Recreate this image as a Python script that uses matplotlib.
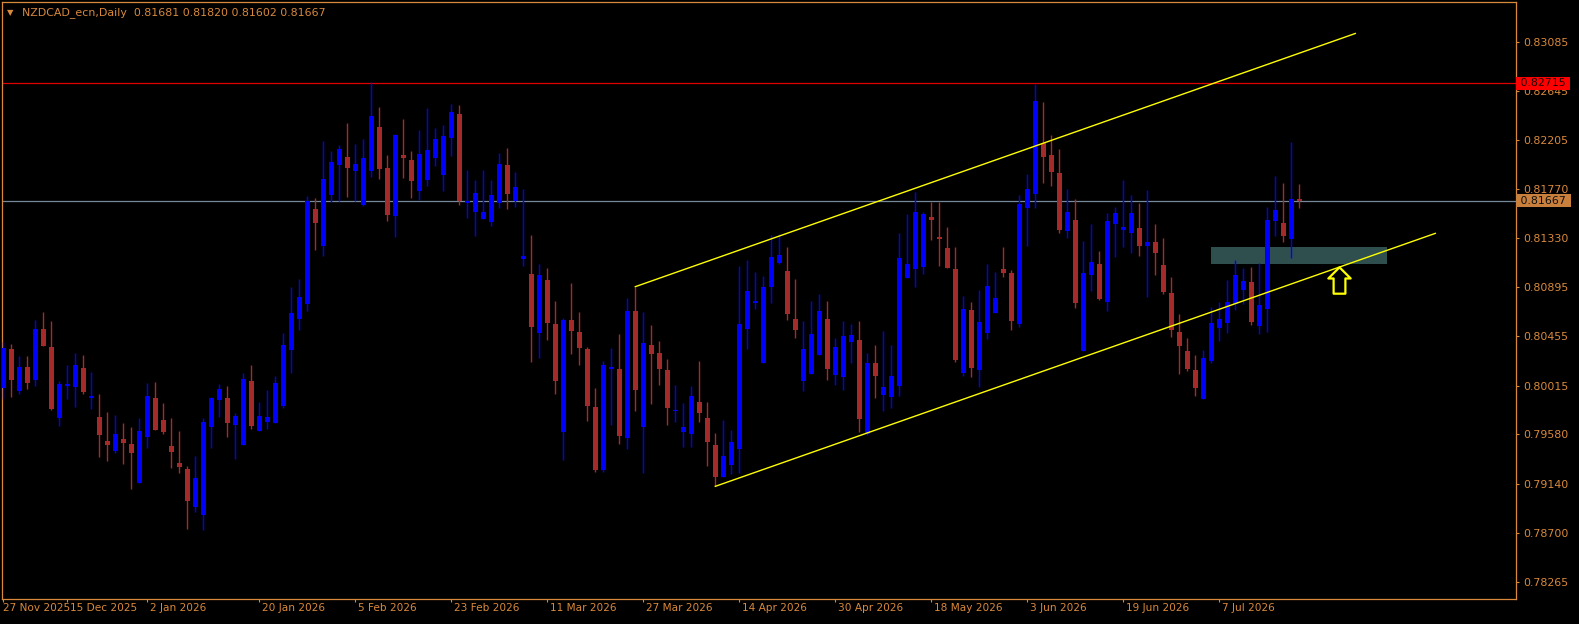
import matplotlib
matplotlib.use("Agg")
from matplotlib import pyplot as plt
from matplotlib.path import Path
from matplotlib import patches
from matplotlib import transforms
import numpy as np

# daily candles (bar 0 = leftmost)
opens = [
    0.79997, 0.80342, 0.79970, 0.80182, 0.80068, 0.80521, 0.80360, 0.79729, 0.80015, 0.80003,
    0.80173, 0.79908, 0.79735, 0.79521, 0.79434, 0.79539, 0.79494, 0.79148, 0.79559, 0.79905,
    0.79708, 0.79476, 0.79324, 0.79271, 0.78931, 0.78860, 0.79649, 0.79890, 0.79905, 0.79664,
    0.79488, 0.80057, 0.79613, 0.79693, 0.79684, 0.79836, 0.80336, 0.80613, 0.80747, 0.81593,
    0.81265, 0.81720, 0.81986, 0.82057, 0.81932, 0.81628, 0.81932, 0.82325, 0.81959, 0.81530,
    0.82075, 0.82030, 0.81753, 0.81852, 0.82048, 0.81896, 0.82227, 0.82441, 0.81646, 0.81566,
    0.81503, 0.81477, 0.81646, 0.81986, 0.81667, 0.81144, 0.81012, 0.80488, 0.80959, 0.80566,
    0.79604, 0.80601, 0.80494, 0.80342, 0.79825, 0.79265, 0.80167, 0.80164, 0.79550, 0.80682,
    0.79649, 0.80378, 0.80307, 0.80155, 0.79789, 0.79604, 0.79586, 0.79869, 0.79726, 0.79485,
    0.79202, 0.79309, 0.79452, 0.80518, 0.80756, 0.80220, 0.80899, 0.81110, 0.81039, 0.80610,
    0.80059, 0.80122, 0.80292, 0.80610, 0.80113, 0.80095, 0.80408, 0.80423, 0.79581, 0.80217,
    0.79934, 0.79917, 0.80015, 0.80979, 0.81060, 0.81077, 0.81521, 0.81334, 0.81244, 0.81057,
    0.80131, 0.80691, 0.80158, 0.80488, 0.80667, 0.81057, 0.81021, 0.80568, 0.81604, 0.81729,
    0.82182, 0.82075, 0.81914, 0.81399, 0.81494, 0.80327, 0.81006, 0.81102, 0.80765, 0.81461,
    0.81408, 0.81381, 0.81423, 0.81265, 0.81298, 0.81093, 0.80843, 0.80494, 0.80325, 0.80155,
    0.79899, 0.80238, 0.80533, 0.80577, 0.80747, 0.80872, 0.80941, 0.80551, 0.80702, 0.81488,
    0.81468, 0.81327, 0.81681]
highs = [
    0.80408, 0.80387, 0.80283, 0.80283, 0.80601, 0.80673, 0.80592, 0.80057, 0.80200, 0.80307,
    0.80289, 0.80140, 0.79941, 0.79780, 0.79753, 0.79682, 0.79649, 0.79729, 0.80039, 0.80048,
    0.79860, 0.79726, 0.79610, 0.79298, 0.79387, 0.79726, 0.79917, 0.80030, 0.80012, 0.79771,
    0.80128, 0.80200, 0.79872, 0.79976, 0.80101, 0.80485, 0.80896, 0.80968, 0.81709, 0.81691,
    0.82200, 0.82111, 0.82164, 0.82363, 0.82173, 0.82218, 0.82727, 0.82504, 0.82075, 0.82262,
    0.82396, 0.82111, 0.82298, 0.82495, 0.82316, 0.82343, 0.82530, 0.82521, 0.81941, 0.81852,
    0.81941, 0.81852, 0.82093, 0.82137, 0.81923, 0.81771, 0.81360, 0.81102, 0.81066, 0.80771,
    0.80622, 0.80932, 0.80673, 0.80360, 0.79994, 0.80235, 0.80354, 0.80476, 0.80798, 0.80899,
    0.80673, 0.80557, 0.80414, 0.80253, 0.80021, 0.79860, 0.80012, 0.80235, 0.79869, 0.79592,
    0.79708, 0.79619, 0.81084, 0.81137, 0.81030, 0.80994, 0.81360, 0.81369, 0.81253, 0.80968,
    0.80592, 0.80771, 0.80834, 0.80771, 0.80441, 0.80592, 0.80566, 0.80592, 0.80307, 0.80381,
    0.80503, 0.80378, 0.81378, 0.81548, 0.81744, 0.81566, 0.81658, 0.81658, 0.81432, 0.81253,
    0.80816, 0.80762, 0.80869, 0.81102, 0.81030, 0.81253, 0.81048, 0.81715, 0.81905, 0.82712,
    0.82548, 0.82253, 0.82128, 0.81771, 0.81682, 0.81307, 0.81459, 0.81218, 0.81557, 0.81611,
    0.81852, 0.81718, 0.81646, 0.81762, 0.81459, 0.81334, 0.80985, 0.80655, 0.80441, 0.80289,
    0.80334, 0.80718, 0.80762, 0.80959, 0.81137, 0.81066, 0.81075, 0.81110, 0.81611, 0.81887,
    0.81825, 0.82191, 0.81820]
lows = [
    0.79896, 0.79917, 0.79943, 0.79988, 0.80015, 0.80372, 0.79798, 0.79657, 0.79899, 0.79827,
    0.79943, 0.79809, 0.79381, 0.79345, 0.79414, 0.79318, 0.79095, 0.79148, 0.79461, 0.79622,
    0.79586, 0.79282, 0.79238, 0.78738, 0.78890, 0.78726, 0.79461, 0.79738, 0.79559, 0.79360,
    0.79488, 0.79631, 0.79613, 0.79631, 0.79684, 0.79818, 0.80128, 0.80515, 0.80684, 0.81229,
    0.81176, 0.81658, 0.81667, 0.81703, 0.81661, 0.81619, 0.81878, 0.81861, 0.81486, 0.81343,
    0.81870, 0.81691, 0.81673, 0.81798, 0.81977, 0.81753, 0.82066, 0.81628, 0.81512, 0.81352,
    0.81503, 0.81441, 0.81604, 0.81595, 0.81613, 0.81084, 0.80229, 0.80265, 0.80426, 0.79943,
    0.79354, 0.80301, 0.80202, 0.79702, 0.79247, 0.79247, 0.79666, 0.79497, 0.79452, 0.79791,
    0.79238, 0.79854, 0.80024, 0.79666, 0.79693, 0.79470, 0.79470, 0.79693, 0.79300, 0.79116,
    0.79202, 0.79229, 0.79238, 0.80345, 0.80700, 0.80220, 0.80756, 0.81102, 0.80604, 0.80443,
    0.79970, 0.80122, 0.80292, 0.80068, 0.80024, 0.79979, 0.80220, 0.79604, 0.79574, 0.79908,
    0.79791, 0.79818, 0.79925, 0.80979, 0.80899, 0.81015, 0.81319, 0.81086, 0.81068, 0.80229,
    0.80104, 0.80095, 0.80006, 0.80434, 0.80667, 0.80988, 0.80515, 0.80542, 0.81265, 0.81604,
    0.81828, 0.81801, 0.81381, 0.81336, 0.80711, 0.80327, 0.80863, 0.80780, 0.80684, 0.81167,
    0.81256, 0.81202, 0.81176, 0.80810, 0.81006, 0.80836, 0.80452, 0.80122, 0.80149, 0.79925,
    0.79899, 0.80220, 0.80417, 0.80488, 0.80693, 0.80747, 0.80559, 0.80479, 0.80497, 0.81354,
    0.81301, 0.81158, 0.81602]
closes = [
    0.80354, 0.80068, 0.80182, 0.80042, 0.80521, 0.80372, 0.79807, 0.80030, 0.80030, 0.80200,
    0.79961, 0.79914, 0.79577, 0.79488, 0.79583, 0.79506, 0.79416, 0.79610, 0.79923, 0.79622,
    0.79604, 0.79425, 0.79291, 0.78988, 0.79193, 0.79693, 0.79908, 0.79985, 0.79684, 0.79744,
    0.80075, 0.79657, 0.79744, 0.79735, 0.80039, 0.80378, 0.80664, 0.80807, 0.81664, 0.81470,
    0.81861, 0.82012, 0.82128, 0.81959, 0.81995, 0.82048, 0.82423, 0.81950, 0.81539, 0.82253,
    0.82048, 0.81843, 0.82084, 0.82120, 0.82218, 0.82245, 0.82459, 0.81664, 0.81664, 0.81736,
    0.81566, 0.81718, 0.81995, 0.81729, 0.81786, 0.81173, 0.80542, 0.81001, 0.80577, 0.80059,
    0.80601, 0.80506, 0.80354, 0.79836, 0.79265, 0.80200, 0.80184, 0.79568, 0.80682, 0.79979,
    0.80396, 0.80301, 0.80167, 0.79818, 0.79798, 0.79646, 0.79923, 0.79774, 0.79515, 0.79202,
    0.79387, 0.79512, 0.80566, 0.80860, 0.80765, 0.80896, 0.81164, 0.81182, 0.80658, 0.80515,
    0.80342, 0.80476, 0.80682, 0.80167, 0.80360, 0.80461, 0.80467, 0.79720, 0.80217, 0.80104,
    0.80006, 0.80101, 0.81155, 0.81102, 0.81566, 0.81548, 0.81497, 0.81327, 0.81068, 0.80247,
    0.80700, 0.80175, 0.80584, 0.80905, 0.80798, 0.81024, 0.80595, 0.81637, 0.81771, 0.82557,
    0.82057, 0.81926, 0.81408, 0.81566, 0.80756, 0.81021, 0.81119, 0.80789, 0.81486, 0.81557,
    0.81432, 0.81557, 0.81265, 0.81298, 0.81202, 0.80854, 0.80515, 0.80372, 0.80167, 0.79997,
    0.80262, 0.80575, 0.80610, 0.80762, 0.81003, 0.80950, 0.80586, 0.80735, 0.81494, 0.81584,
    0.81354, 0.81682, 0.81667]

date_idx = [0, 8, 18, 32, 44, 56, 68, 80, 92, 104, 116, 128, 140, 152]
date_labels = ['27 Nov 2025', '15 Dec 2025', '2 Jan 2026', '20 Jan 2026', '5 Feb 2026',
               '23 Feb 2026', '11 Mar 2026', '27 Mar 2026', '14 Apr 2026', '30 Apr 2026',
               '18 May 2026', '3 Jun 2026', '19 Jun 2026', '7 Jul 2026']
price_ticks = [0.83085, 0.82645, 0.82205, 0.81770, 0.81330, 0.80895,
               0.80455, 0.80015, 0.79580, 0.79140, 0.78700, 0.78265]

resistance = 0.82715
bid = 0.81667
# channel lines: (bar, price) start and end
chan_upper = [(79, 0.80899), (169, 0.83160)]
chan_lower = [(89, 0.79116), (179, 0.81375)]
# support zone rectangle
zone_bars = (151, 173)
zone_prices = (0.81104, 0.81253)
arrow_at = (167, 0.80956)

BULL = '#0000FF'
BEAR = '#A52A2A'
FG = '#D9893B'

W, H = 1579, 624
fig = plt.figure(figsize=(W / 100, H / 100), dpi=100, facecolor='black')
left_px, right_px, top_px, bot_px = 2, 1516, 2, 599
ax = fig.add_axes([left_px / W, 1 - bot_px / H, (right_px - left_px) / W, (bot_px - top_px) / H])
ax.set_facecolor('black')

o = np.array(opens)
h = np.array(highs)
l = np.array(lows)
c = np.array(closes)
x = np.arange(len(o))
colors = [BULL if cc >= oo else BEAR for oo, cc in zip(o, c)]

px_price = 0.0000893
body_lo = np.minimum(o, c)
body_h = np.maximum(np.abs(c - o), 1.3 * px_price)

ax.axhline(resistance, color='#E00000', lw=0.9, zorder=1.5)
ax.axhline(bid, color='#778899', lw=0.9, zorder=1.5)

ax.add_patch(patches.Rectangle((zone_bars[0], zone_prices[0]), zone_bars[1] - zone_bars[0],
                               zone_prices[1] - zone_prices[0], fc='#2F4F4F', ec='none', zorder=1))

ax.vlines(x, l, h, colors=colors, lw=1.0, zorder=2.9)
ax.bar(x, body_h, bottom=body_lo, width=0.66, color=colors, linewidth=0, zorder=3)

for line in (chan_upper, chan_lower):
    ax.plot([line[0][0], line[1][0]], [line[0][1], line[1][1]], color='#FFFF00', lw=1, zorder=4)

# hollow up-arrow marker
arrow_path = Path([(0, 13), (11, 2), (5.8, 2), (5.8, -13), (-5.8, -13), (-5.8, 2), (-11, 2), (0, 13)],
                  [Path.MOVETO] + [Path.LINETO] * 6 + [Path.CLOSEPOLY])
ax.plot([arrow_at[0]], [arrow_at[1]], marker=arrow_path, markersize=19, mfc='black', mec='#FFFF00',
        mew=1.6, zorder=5, linestyle='none')

ax.set_xlim((left_px - 3.3) / 8, (right_px - 3.3) / 8)
ax.set_ylim(0.83459 - px_price * bot_px, 0.83459 - px_price * top_px)

ax.yaxis.tick_right()
ax.set_yticks(price_ticks)
ax.set_yticklabels(['%.5f' % v for v in price_ticks])
ax.set_xticks(date_idx)
ax.set_xticklabels([])
ax.tick_params(axis='y', colors=FG, labelsize=7.9, length=2.5, width=0.8, pad=3)
ax.tick_params(axis='x', colors=FG, length=2.5, width=0.8)
for sp in ax.spines.values():
    sp.set_color(FG)
    sp.set_linewidth(0.9)

# date labels, text starting just right of each tick (first one sits on the left edge)
for n, (i, lab) in enumerate(zip(date_idx, date_labels)):
    dx = 0 if n == 0 else 3
    tf = ax.get_xaxis_transform() + transforms.ScaledTranslation(dx / 100, -4 / 100, fig.dpi_scale_trans)
    ax.text(i, 0, lab, transform=tf, ha='left', va='top', fontsize=7.6, color=FG, clip_on=False)

# price boxes on the right scale
ax.text(1 + 1.0 / (right_px - left_px), resistance, ' %.5f ' % resistance, transform=ax.get_yaxis_transform(),
        ha='left', va='center', fontsize=7.9, color='#200000', clip_on=False, zorder=10,
        bbox=dict(boxstyle='square,pad=0.12', fc='#FF0000', ec='none'))
ax.text(1 + 1.0 / (right_px - left_px), bid, ' %.5f ' % bid, transform=ax.get_yaxis_transform(),
        ha='left', va='center', fontsize=7.9, color='#101010', clip_on=False, zorder=10,
        bbox=dict(boxstyle='square,pad=0.12', fc='#C8803C', ec='none'))

# header
fig.text(6.5 / W, 1 - 12.5 / H, '\u25bc', fontsize=6, color=FG, va='center', ha='left')
fig.text(22 / W, 1 - 12.7 / H, 'NZDCAD_ecn,Daily  %.5f %.5f %.5f %.5f' % (opens[-1], highs[-1], lows[-1], closes[-1]),
         fontsize=7.9, color=FG, va='center', ha='left')

fig.savefig('out.png', dpi=100, facecolor='black')
